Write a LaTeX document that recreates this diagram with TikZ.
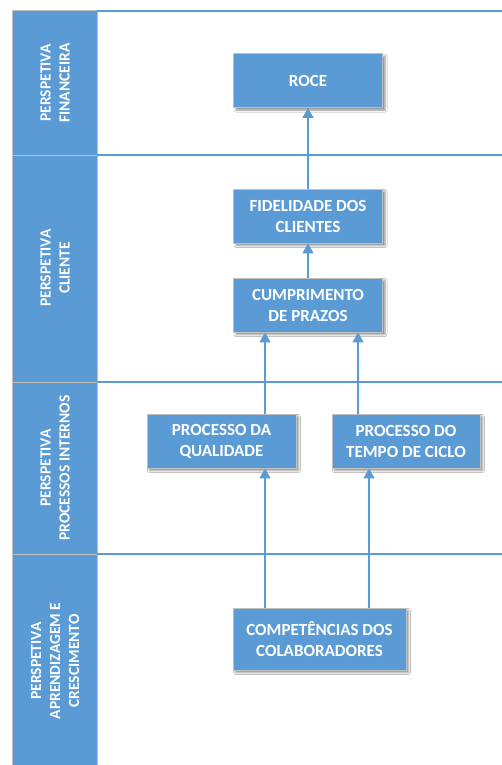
\documentclass[tikz,border=0pt]{standalone}
\usepackage{fontspec}
\setmainfont{Carlito}
\usetikzlibrary{arrows.meta,shadows.blur}
\definecolor{bandblue}{HTML}{5B9BD5}
\definecolor{edgegray}{HTML}{BFBFBF}

\begin{document}
\begin{tikzpicture}[x=1pt,y=-1pt,
  lane/.style={fill=bandblue,draw=edgegray,line width=1pt},
  lanelabel/.style={rotate=90,text=white,align=center,inner sep=0pt,
    font=\bfseries\fontsize{15.5}{19}\selectfont},
  divider/.style={draw=bandblue,line width=1.5pt},
  goal/.style={rectangle,fill=bandblue,draw=edgegray,line width=0.8pt,
    text=white,align=center,inner sep=0pt,
    font=\bfseries\fontsize{17}{21}\selectfont,
    minimum width=149pt,minimum height=54pt,
    blur shadow={shadow xshift=2.5pt,shadow yshift=-2.5pt,
      shadow blur radius=2pt,shadow opacity=45}},
  link/.style={draw=bandblue,line width=1.3pt,
    -{Triangle[width=11pt,length=10pt]}}]

\useasboundingbox (0,0) rectangle (502,765);
\fill[white] (0,0) rectangle (502,765);

% perspective lanes on the left
\draw[lane] (12,11)  rectangle (97,155);
\draw[lane] (12,155) rectangle (97,382);
\draw[lane] (12,382) rectangle (97,554);
\draw[lane] (12,554) rectangle (97,770);

\node[lanelabel] (fin) at (55,83)  {PERSPETIVA\\FINANCEIRA};
\node[lanelabel] (cli) at (55,268) {PERSPETIVA\\CLIENTE};
\node[lanelabel] (pin) at (55,468) {PERSPETIVA\\PROCESSOS INTERNOS};
\node[lanelabel] (apr) at (55,661) {PERSPETIVA\\APRENDIZAGEM E\\CRESCIMENTO};

% lane dividers
\draw[divider] (97,11)  -- (502,11);
\draw[divider] (97,155) -- (502,155);
\draw[divider] (97,382) -- (502,382);
\draw[divider] (97,554) -- (502,554);

% objectives
\node[goal] (roce) at (308,80.5) {ROCE};
\node[goal] (fid)  at (308,216)  {FIDELIDADE DOS\\CLIENTES};
\node[goal] (cump) at (308,305)  {CUMPRIMENTO\\DE PRAZOS};
\node[goal] (pdq)  at (221.5,441)  {PROCESSO DA\\QUALIDADE};
\node[goal,minimum width=148pt] (pdt) at (406,441) {PROCESSO DO\\TEMPO DE CICLO};
\node[goal,minimum width=173pt,minimum height=62pt] (comp) at (319.5,639)
  {COMPETÊNCIAS DOS\\COLABORADORES};

% vertical tracks of the cause-effect links
\coordinate (trackA) at (265,0);
\coordinate (trackB) at (358,0);
\coordinate (trackC) at (369,0);

\draw[link] (fid.north) -- (roce.south);
\draw[link] (cump.north) -- (fid.south);
\draw[link] (pdq.north -| trackA) -- (cump.south -| trackA);
\draw[link] (pdt.north -| trackB) -- (cump.south -| trackB);
\draw[link] (comp.north -| trackA) -- (pdq.south -| trackA);
\draw[link] (comp.north -| trackC) -- (pdt.south -| trackC);

\end{tikzpicture}
\end{document}
